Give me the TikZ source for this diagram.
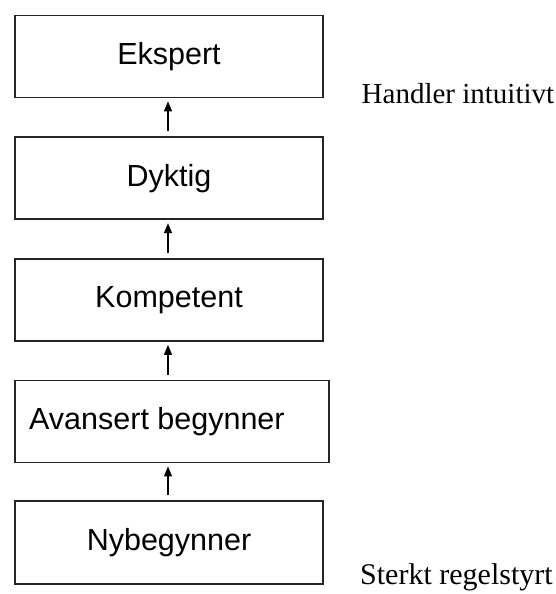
\documentclass[tikz,border=0pt]{standalone}
\usepackage{fontspec}
\setmainfont{Liberation Sans}
\newfontfamily\serifcam{Liberation Serif}
\usetikzlibrary{arrows.meta}
\begin{document}
\begin{tikzpicture}[x=1pt,y=1pt,
  level/.style={draw=black!85,line width=1.8pt,rectangle,inner sep=0pt,
    minimum width=308pt,minimum height=82pt,font=\fontsize{30.5}{34}\selectfont},
  arr/.style={line width=1.3pt,-{Triangle[length=10pt,width=8pt]}},
  side/.style={anchor=base west,inner sep=0pt,font=\serifcam\fontsize{29}{33}\selectfont}]
\useasboundingbox (0,0) rectangle (556,-594);
\node[level] (eks) at (169,-56.5) {Ekspert};
\node[level] (dyk) at (169,-178.3) {Dyktig};
\node[level] (kom) at (169,-300) {Kompetent};
\node[level,minimum width=314pt] (ava) at (172,-421.5) {};
\node[anchor=west,inner sep=0pt,font=\fontsize{30.5}{34}\selectfont] (avat) at (29,-421.5) {Avansert begynner};
\node[level,minimum height=83pt] (nyb) at (169,-542.5) {Nybegynner};
\draw[arr] ([shift={(-1,5)}]dyk.north) -- ([shift={(-1,-3)}]eks.south);
\draw[arr] ([shift={(-1,5)}]kom.north) -- ([shift={(-1,-3)}]dyk.south);
\draw[arr] ([shift={(-1,5)}]ava.north -| kom.north) -- ([shift={(-1,-3)}]kom.south);
\draw[arr] ([shift={(-1,5)}]nyb.north) -- ([shift={(-1,-3)}]nyb.north |- ava.south);
\node[side] (hi) at (361.5,-103.3) {Handler intuitivt};
\node[side,font=\serifcam\fontsize{30}{34}\selectfont] (sr) at (360,-584) {Sterkt regelstyrt};
\end{tikzpicture}
\end{document}
